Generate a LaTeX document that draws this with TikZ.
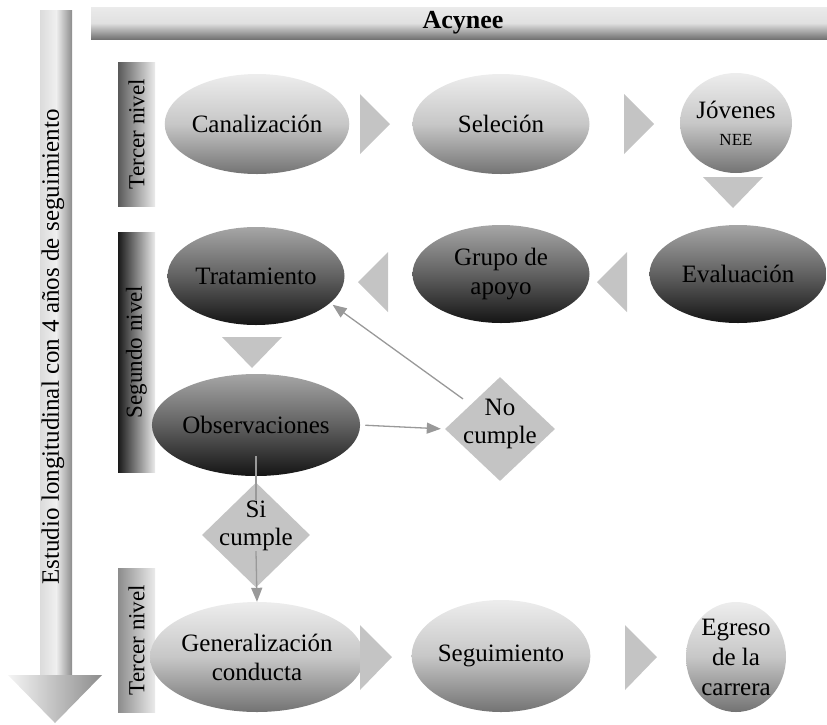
\documentclass[tikz,border=0pt]{standalone}
\usepackage{fontspec}
\setmainfont{Liberation Serif}
\usetikzlibrary{arrows.meta,shapes.geometric}

\begin{document}
\begin{tikzpicture}[x=1pt, y=-1pt,
  lightell/.style={ellipse, inner sep=0pt, minimum width=177pt, minimum height=100pt, align=center,
    font=\fontsize{25}{29}\selectfont,
    top color=black!7, bottom color=black!55, middle color=black!22},
  darkell/.style={lightell, top color=black!35, bottom color=black!92, middle color=black!62},
  lvltext/.style={rotate=90, font=\fontsize{23}{27}\selectfont},
  flow/.style={fill=black!23},
  cond/.style={diamond, aspect=1, inner sep=0pt, minimum width=108pt, minimum height=105pt, fill=black!23},
  condtext/.style={align=center, inner sep=0pt, font=\fontsize{25}{28}\selectfont},
  conn/.style={draw=black!40, line width=1.3pt, -{Triangle[length=14pt,width=11pt]}}]
  \useasboundingbox (0,0) rectangle (827,724);

  % long arrow on the left
  \shade[left color=black!14, right color=black!45, middle color=black!6] (40,10) rectangle (72,676);
  \shade[left color=black!4, right color=black!45] (8,675) -- (102,675) -- (55,723) -- cycle;
  \node[rotate=90, font=\fontsize{25}{30}\selectfont] (estudio) at (53,347) {Estudio longitudinal con 4 años de seguimiento};

  % top bar
  \shade[top color=black!8, bottom color=black!55, middle color=black!12] (91,7) rectangle (827,39);
  \node[font=\bfseries\fontsize{26}{30}\selectfont] (acynee) at (463,23) {Acynee};

  % level bars
  \shade[left color=black!65, right color=black!8] (118,62) rectangle (155,206);
  \node[lvltext] (nivel1) at (136.5,134) {Tercer nivel};
  \shade[left color=black!90, right color=black!8] (118,232) rectangle (155,472);
  \node[lvltext] (nivel2) at (136.5,352) {Segundo nivel};
  \shade[left color=black!45, right color=black!8] (118,568) rectangle (155,712);
  \node[lvltext] (nivel3) at (136.5,640) {Tercer nivel};

  % first row
  \node[lightell] (canal) at (257,124) {Canalización};
  \node[lightell] (selec) at (501,124) {Seleción};
  \node[lightell, minimum width=105pt] (jovenes) at (736,123) {Jóvenes\\[-2pt]{\fontsize{17}{20}\selectfont NEE}};
  \fill[flow] (360,94) -- (390,124) -- (360,154) -- cycle;
  \fill[flow] (624,94) -- (654,124) -- (624,154) -- cycle;
  \fill[flow] (703,177) -- (763,177) -- (733,208) -- cycle;

  % second row
  \node[darkell, minimum height=98pt] (eval) at (738,274) {Evaluación};
  \node[darkell, minimum height=98pt] (grupo) at (501,274) {Grupo de\\apoyo};
  \node[darkell, minimum height=98pt] (trat) at (256,276) {Tratamiento};
  \fill[flow] (627,252) -- (597,282) -- (627,312) -- cycle;
  \fill[flow] (388,252) -- (358,282) -- (388,312) -- cycle;
  \fill[flow] (222,337) -- (282,337) -- (252,368) -- cycle;
  \node[darkell, minimum height=102pt] (obs) at (256,425) {Observaciones};

  % conditions
  \node[cond, minimum width=110pt, minimum height=104pt] (no) at (500,429) {};
  \node[condtext] (notxt) at (500,424) {No\\cumple};
  \node[cond] (si) at (256,535) {};
  \node[condtext] (sitxt) at (256,526) {Si\\cumple};

  % third row
  \node[lightell, minimum height=110pt] (gener) at (257,657) {Generalización\\conducta};
  \node[lightell, minimum height=112pt] (segui) at (501,656) {Seguimiento};
  \node[lightell, minimum width=100pt, minimum height=110pt, font=\fontsize{25}{30}\selectfont] (egreso) at (736,657) {Egreso\\de la\\carrera};
  \fill[flow] (360,625) -- (392,657) -- (360,690) -- cycle;
  \fill[flow] (625,625) -- (657,657) -- (625,690) -- cycle;

  % connectors
  \draw[conn, shorten <=5pt, shorten >=4pt] (obs.east) -- (no.west);
  \draw[conn, shorten >=3pt] (notxt.north west) -- (trat.-20);
  \draw[draw=black!40, line width=1.3pt, shorten <=-20pt] (obs.south) -- (sitxt.north);
  \draw[conn] (sitxt.south) -- (gener.north);
\end{tikzpicture}
\end{document}
